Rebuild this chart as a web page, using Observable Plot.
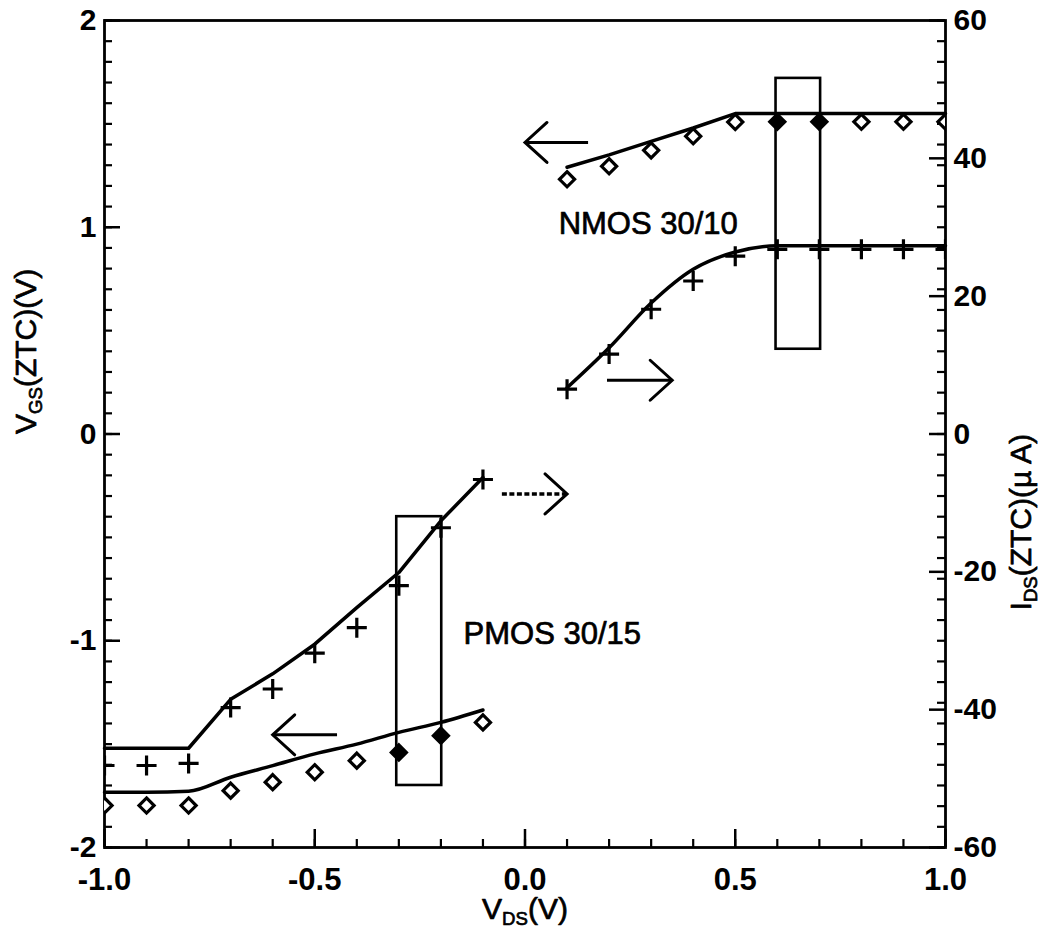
<!DOCTYPE html>
<html>
<head>
<meta charset="utf-8">
<script src="https://cdn.jsdelivr.net/npm/d3@7"></script>
<script src="https://cdn.jsdelivr.net/npm/@observablehq/plot@0.6"></script>
<style>
  body { margin: 0; background: #fff; }
</style>
</head>
<body>
<div id="chart"></div>
<script>
// Drain-source sweep (V)
const nmosVds = [0.1, 0.2, 0.3, 0.4, 0.5, 0.6, 0.7, 0.8, 0.9, 1.0];
const pmosVds = [-1.0, -0.9, -0.8, -0.7, -0.6, -0.5, -0.4, -0.3, -0.2, -0.1];

// Zero-temperature-coefficient gate voltage, left axis (V)
const nmosVgsModel = [1.29, 1.35, 1.415, 1.48, 1.55, 1.55, 1.55, 1.55, 1.55, 1.55];
const nmosVgsMeas  = [1.232, 1.295, 1.372, 1.44, 1.509, 1.51, 1.51, 1.51, 1.51, 1.51];
const pmosVgsModel = [-1.733, -1.733, -1.728, -1.66, -1.604, -1.547, -1.5, -1.443, -1.395, -1.335];
const pmosVgsMeas  = [-1.797, -1.797, -1.797, -1.725, -1.684, -1.636, -1.58, -1.54, -1.459, -1.395];

// Zero-temperature-coefficient drain current, right axis (µA)
const nmosIdsModel = [6.7, 12.5, 19.0, 23.9, 26.4, 27.3, 27.3, 27.3, 27.3, 27.3];
const nmosIdsMeas  = [6.5, 11.6, 18.1, 22.2, 25.8, 26.8, 26.8, 26.8, 26.8, 26.8];
const pmosIdsModel = [-45.6, -45.6, -45.6, -38.5, -34.8, -30.5, -25.2, -20.1, -12.6, -6.3];
const pmosIdsMeas  = [-48.1, -48.1, -47.8, -39.7, -37.0, -31.8, -28.1, -22.0, -13.6, -6.6];

// Axis extents and tick labels
const vdsDomain = [-1, 1];
const vgsDomain = [-2, 2];
const idsDomain = [-60, 60];
const vdsTicks = [-1, -0.5, 0, 0.5, 1];
const vgsTicks = [-2, -1, 0, 1, 2];
const idsTicks = [-60, -40, -20, 0, 20, 40, 60];

// Highlighted bias windows and device labels
const deviceNames   = ["NMOS 30/10", "PMOS 30/15"];
const windowVdsLo   = [0.597, -0.305];
const windowVdsHi   = [0.703, -0.198];
const windowVgsLo   = [0.41, -1.70];
const windowVgsHi   = [1.72, -0.40];
const labelVds      = [0.08, -0.146];
const labelVgs      = [1.015, -0.966];

// Arrows pointing each curve to its axis (positions on the V_GS scale)
const arrowCurve = ["NMOS VGS", "NMOS IDS", "PMOS IDS", "PMOS VGS"];
const arrowFrom  = [0.15, 0.195, -0.055, -0.447];
const arrowTo    = [0.0, 0.35, 0.10, -0.60];
const arrowAt    = [1.41, 0.26, -0.29, -1.455];

// ---------------------------------------------------------------------------
const W = 1048, H = 940;
const mL = 104, mR = 103, mT = 20, mB = 93;
const FW = W - mL - mR, FH = H - mT - mB;

// µA -> V_GS scale units (right axis shares the left axis' pixels)
const k = vgsDomain[1] / idsDomain[1];

const nmos = nmosVds.map((vds, i) => ({
  vds, vgsModel: nmosVgsModel[i], vgsMeas: nmosVgsMeas[i],
  idsModel: nmosIdsModel[i] * k, idsMeas: nmosIdsMeas[i] * k
}));
const pmos = pmosVds.map((vds, i) => ({
  vds, vgsModel: pmosVgsModel[i], vgsMeas: pmosVgsMeas[i],
  idsModel: pmosIdsModel[i] * k, idsMeas: pmosIdsMeas[i] * k
}));
const windows = deviceNames.map((name, i) => ({
  name, x1: windowVdsLo[i], x2: windowVdsHi[i], y1: windowVgsLo[i], y2: windowVgsHi[i],
  lx: labelVds[i], ly: labelVgs[i]
}));
const arrows = arrowCurve.map((curve, i) => ({
  curve, from: arrowFrom[i], to: arrowTo[i], at: arrowAt[i]
}));
const dashed = (a) => a.curve === "PMOS IDS";

const inWindow = (vds) => windows.some(w => vds >= w.x1 - 1e-9 && vds <= w.x2 + 1e-9);

// open chevron heads for the arrows
const headRight = {draw(ctx) { ctx.moveTo(-22, -20); ctx.lineTo(0, 0); ctx.lineTo(-22, 20); }};
const headLeft  = {draw(ctx) { ctx.moveTo(22, -20); ctx.lineTo(0, 0); ctx.lineTo(22, 20); }};

// minor tick positions
const vgsMinor = d3.range(-20, 21).map(d => d / 10);
const vdsMinor = d3.range(-10, 11).map(d => d / 10);

const lineW = 3.5, markW = 3.2;
const font = "'Liberation Sans', Arial, Helvetica, sans-serif";
const ink = {fill: "#000", stroke: "#000", strokeWidth: 0.7};

const chart = Plot.plot({
  width: W, height: H,
  marginLeft: mL, marginRight: mR, marginTop: mT, marginBottom: mB,
  x: {domain: vdsDomain},
  y: {domain: vgsDomain},
  style: {fontFamily: font, background: "#fff", color: "#000", overflow: "visible"},
  marks: [
    // inward ticks: left
    Plot.tickY(vgsMinor, {y: d => d, insetRight: FW - 8, strokeWidth: 2.2}),
    Plot.tickY(vgsTicks, {y: d => d, insetRight: FW - 16, strokeWidth: 2.5}),
    // inward ticks: right
    Plot.tickY(vgsMinor, {y: d => d, insetLeft: FW - 8, strokeWidth: 2.2}),
    Plot.tickY(idsTicks, {y: d => d * k, insetLeft: FW - 16, strokeWidth: 2.5}),
    // inward ticks: bottom
    Plot.tickX(vdsMinor, {x: d => d, insetTop: FH - 8, strokeWidth: 2.2}),
    Plot.tickX(vdsTicks, {x: d => d, insetTop: FH - 18, strokeWidth: 2.5}),
    Plot.frame({stroke: "#000", strokeWidth: 2.8}),

    // bias windows
    Plot.rect(windows, {x1: "x1", x2: "x2", y1: "y1", y2: "y2", fill: "none", stroke: "#000", strokeWidth: 2.6}),

    // model curves
    Plot.line(nmos, {x: "vds", y: "vgsModel", stroke: "#000", strokeWidth: lineW}),
    Plot.line(nmos, {x: "vds", y: "idsModel", curve: "monotone-x", stroke: "#000", strokeWidth: lineW}),
    Plot.line(pmos, {x: "vds", y: "vgsModel", curve: "monotone-x", stroke: "#000", strokeWidth: lineW}),
    Plot.line(pmos, {x: "vds", y: "idsModel", stroke: "#000", strokeWidth: lineW}),

    // measured points
    Plot.dot([...nmos, ...pmos], {x: "vds", y: "vgsMeas", symbol: "diamond2", r: 6.8,
      stroke: "#000", strokeWidth: markW, fill: d => inWindow(d.vds) ? "#000" : "#fff", clip: true}),
    Plot.dot([...nmos, ...pmos], {x: "vds", y: "idsMeas", symbol: "plus", r: 6.5,
      stroke: "#000", strokeWidth: markW, clip: true}),

    // arrows
    Plot.link(arrows, {filter: d => !dashed(d), x1: "from", x2: "to", y1: "at", y2: "at",
      stroke: "#000", strokeWidth: 3}),
    Plot.link(arrows, {filter: dashed, x1: "from", x2: "to", y1: "at", y2: "at",
      stroke: "#000", strokeWidth: 3.5, strokeDasharray: "5,2.5"}),
    Plot.dot(arrows, {x: "to", y: "at", symbol: d => d.to > d.from ? headRight : headLeft,
      stroke: "#000", strokeWidth: 3, fill: "none", strokeLinecap: "round", strokeLinejoin: "miter"}),

    // device labels
    Plot.text(windows, {x: "lx", y: "ly", text: "name", textAnchor: "start", fontSize: 31, ...ink}),

    // tick labels
    Plot.axisY({ticks: vgsTicks, tickFormat: d => String(d), tickSize: 0, tickPadding: 8,
      fontSize: 30, fontWeight: "bold", label: null}),
    Plot.axisY({anchor: "right", ticks: idsTicks.map(d => d * k), tickFormat: d => String(Math.round(d / k)),
      tickSize: 0, tickPadding: 8, fontSize: 30, fontWeight: "bold", label: null}),
    Plot.axisX({ticks: vdsTicks, tickFormat: d => d.toFixed(1), tickSize: 0, tickPadding: 20,
      fontSize: 31, fontWeight: "bold", label: null}),

    // axis titles
    Plot.text(["V_{DS}(V)"], {text: d => d, frameAnchor: "bottom", dy: 71, fontSize: 30, ...ink}),
    Plot.text(["V_{GS}(ZTC)(V)"], {text: d => d, frameAnchor: "left", dx: -78, rotate: -90, fontSize: 30, ...ink}),
    Plot.text(["I_{DS}(ZTC)(µ A)"], {text: d => d, frameAnchor: "right", dx: 76, rotate: -90, fontSize: 30, ...ink})
  ]
});

// turn "_{...}" into lowered, smaller tspans
chart.querySelectorAll("text").forEach(el => {
  const s = el.textContent;
  if (!s.includes("_{")) return;
  while (el.firstChild) el.removeChild(el.firstChild);
  const parts = s.split(/_\{([^}]*)\}/);
  let shift = 0;
  parts.forEach((p, i) => {
    if (!p) return;
    const isSub = i % 2 === 1;
    const target = isSub ? 6 : 0;
    const t = document.createElementNS("http://www.w3.org/2000/svg", "tspan");
    t.setAttribute("dy", target - shift);
    shift = target;
    if (isSub) t.setAttribute("font-size", "0.62em");
    t.textContent = p;
    el.appendChild(t);
  });
});

document.getElementById("chart").appendChild(chart);
</script>
</body>
</html>
